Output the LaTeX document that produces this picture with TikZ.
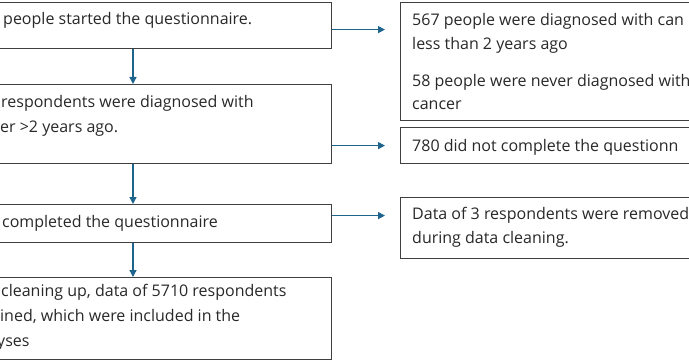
\documentclass[tikz,border=0pt]{standalone}
\usepackage{fontspec}
\setmainfont{Open Sans}
\usepackage{tikz}
\usetikzlibrary{positioning}
\usetikzlibrary{arrows.meta}
\definecolor{flowblue}{RGB}{30,100,140}
\definecolor{framegray}{RGB}{64,64,64}
\definecolor{inkgray}{RGB}{40,40,40}
\tikzset{flowbox/.style={draw=framegray, line width=1.2pt, rectangle, anchor=north west, inner sep=0pt}}
\tikzset{flowtext/.style={text=inkgray, font=\fontsize{16}{25}\selectfont, align=left, inner sep=0pt, anchor=base west}}
\tikzset{flowarrow/.style={draw=flowblue, line width=1.3pt, -{Triangle[length=7pt,width=7pt]}}}

\begin{document}
\begin{tikzpicture}[x=1pt, y=-1pt]
\useasboundingbox (0,0) rectangle (689,361);
\clip (0,0) rectangle (689,361);
\coordinate (spine) at (133,0);
% left column
\node (started) [flowbox, minimum width=346pt, minimum height=46pt] at (-15,2) {};
\node (eligible) [flowbox, minimum width=346pt, minimum height=79pt] at (-15,84) {};
\node (completed) [flowbox, minimum width=346pt, minimum height=38pt] at (-15,204) {};
\node (included) [flowbox, minimum width=346pt, minimum height=82pt] at (-15,277) {};
% base anchor sits on the last line
\node (startedtext) [flowtext] at (3,25) {people started the questionnaire.};
\node (eligibletext) [flowtext] at (-3,132) {\hspace*{4pt}respondents were diagnosed with\\\hspace*{3pt}er >2 years ago.};
\node (completedtext) [flowtext] at (2,227) {completed the questionnaire};
\node (includedtext) [flowtext] at (-3,346) {\hspace*{4pt}cleaning up, data of 5710 respondents\\\hspace*{3pt}ined, which were included in the\\yses};
% right column
\node (notyet) [flowbox, minimum width=360pt, minimum height=118pt] at (400,2) {};
\node (dropped) [flowbox, minimum width=360pt, minimum height=36pt] at (400,127) {};
\node (removed) [flowbox, minimum width=360pt, minimum height=61pt] at (400,197) {};
\node (notyettext) [flowtext, font=\fontsize{16}{24}\selectfont] at (412,50) {567 people were diagnosed with can\\less than 2 years ago};
\node (nevertext) [flowtext, font=\fontsize{16}{23}\selectfont] at (412,110) {58 people were never diagnosed with\\cancer};
\node (droppedtext) [flowtext] at (412,152) {780 did not complete the questionn};
\node (removedtext) [flowtext, font=\fontsize{16}{24}\selectfont] at (412,243) {Data of 3 respondents were removed\\during data cleaning.};
% arrows
\draw [flowarrow] (started.south -| spine) to (eligible.north -| spine);
\draw [flowarrow] (eligible.south -| spine) to (completed.north -| spine);
\draw [flowarrow] (completed.south -| spine) to (included.north -| spine);
\draw [flowarrow, shorten >=15pt] ([yshift=-4pt]started.east) to ([yshift=-4pt]started.east -| notyet.west);
\draw [flowarrow, shorten >=15pt] (dropped.west -| eligible.east) to (dropped.west);
\draw [flowarrow, shorten >=15pt] ([yshift=8pt]completed.east) to ([yshift=8pt]completed.east -| removed.west);
\end{tikzpicture}
\end{document}
